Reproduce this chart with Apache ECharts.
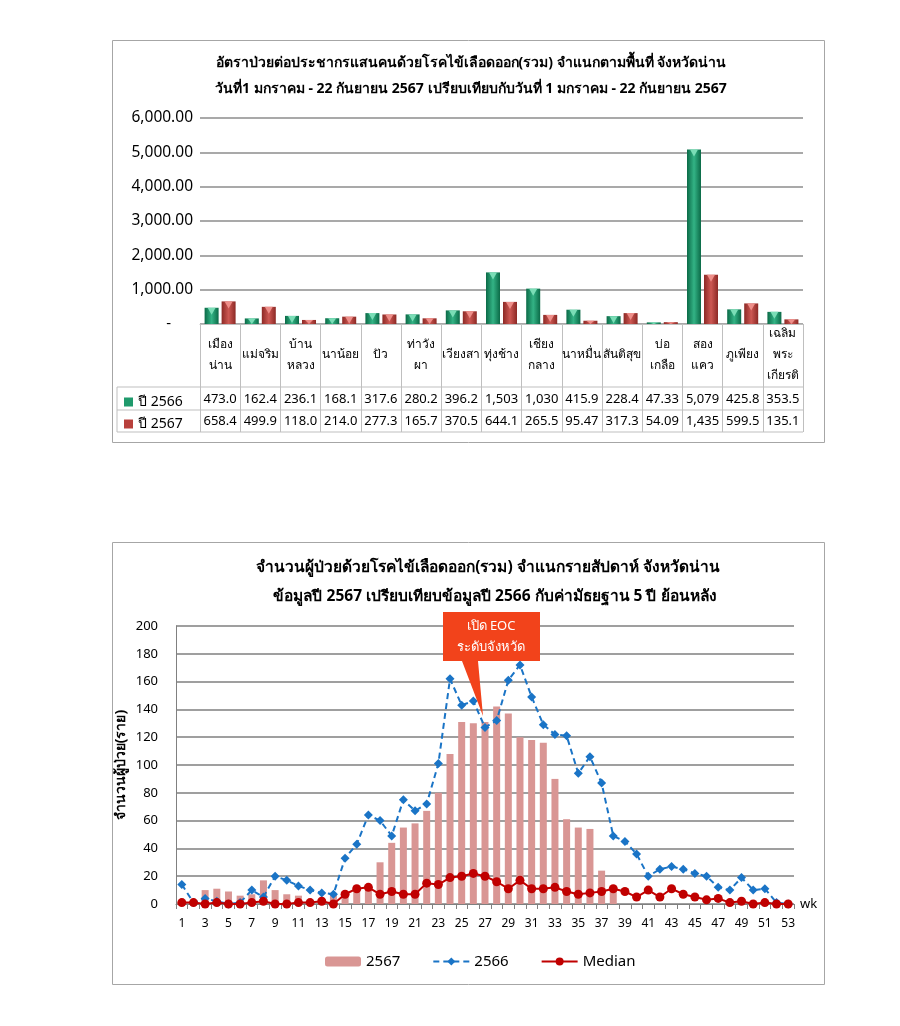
<!DOCTYPE html>
<html><head><meta charset="utf-8">
<script src="https://cdn.jsdelivr.net/npm/echarts@6/dist/echarts.min.js"></script>
<style>html,body{margin:0;padding:0;background:#fff}#c{width:900px;height:1026px}</style>
</head><body><div id="c"></div>
<script>
const FONT = 'Tahoma, "Noto Sans", "DejaVu Sans", sans-serif';

// ---- Top chart data ----
const topTitle1 = 'อัตราป่วยต่อประชากรแสนคนด้วยโรคไข้เลือดออก(รวม) จำแนกตามพื้นที่ จังหวัดน่าน';
const topTitle2 = 'วันที่1 มกราคม - 22 กันยายน 2567 เปรียบเทียบกับวันที่ 1 มกราคม - 22 กันยายน 2567';
const districts = ['เมือง\nน่าน','แม่จริม','บ้าน\nหลวง','นาน้อย','ปัว','ท่าวัง\nผา','เวียงสา','ทุ่งช้าง','เชียง\nกลาง','นาหมื่น','สันติสุข','บ่อ\nเกลือ','สอง\nแคว','ภูเพียง','เฉลิม\nพระ\nเกียรติ'];
const name2566 = 'ปี 2566';
const name2567 = 'ปี 2567';
const rate2566 = [473.0,162.4,236.1,168.1,317.6,280.2,396.2,1503,1030,415.9,228.4,47.33,5079,425.8,353.5];
const rate2567 = [658.4,499.9,118.0,214.0,277.3,165.7,370.5,644.1,265.5,95.47,317.3,54.09,1435,599.5,135.1];

// ---- Bottom chart data ----
const botTitle1 = 'จำนวนผู้ป่วยด้วยโรคไข้เลือดออก(รวม) จำแนกรายสัปดาห์ จังหวัดน่าน';
const botTitle2 = 'ข้อมูลปี 2567 เปรียบเทียบข้อมูลปี 2566 กับค่ามัธยฐาน 5 ปี ย้อนหลัง';
const weeks = ['1','2','3','4','5','6','7','8','9','10','11','12','13','14','15','16','17','18','19','20','21','22','23','24','25','26','27','28','29','30','31','32','33','34','35','36','37','38','39','40','41','42','43','44','45','46','47','48','49','50','51','52','53'];
const cases2567 = [3,0,10,11,9,6,7,17,10,7,6,1,1,8,9,12,12,30,44,55,58,67,80,108,131,130,131,142,137,120,118,116,90,61,55,54,24,11,null,null,null,null,null,null,null,null,null,null,null,null,null,null,null];
const cases2566 = [14,1,4,2,0,1,10,5,20,17,13,10,8,7,33,43,64,60,49,75,67,72,101,162,143,146,127,132,161,172,149,129,122,121,94,106,87,49,45,36,20,25,27,25,22,20,12,10,19,10,11,1,0];
const median5y = [1,1,0,1,0,0,1,2,0,0,1,1,2,0,7,11,12,7,9,7,7,15,14,19,20,22,20,16,11,17,11,11,12,9,7,8,9,11,9,5,10,5,11,7,5,3,4,1,2,0,1,0,0];
const calloutText = 'เปิด EOC\nระดับจังหวัด';

function fmtTable(v){
  return v >= 1000 ? Math.round(v).toLocaleString('en-US') : v.toPrecision(4);
}

const G = echarts.graphic;
function grad(dark, light){
  return new G.LinearGradient(0,0,1,0,[{offset:0,color:dark},{offset:0.5,color:light},{offset:1,color:dark}]);
}
function barRenderer(shift, dark, light, tri){
  return function(params, api){
    const idx = api.value(0), val = api.value(1);
    const top = api.coord([idx, val]);
    const base = api.coord([idx, 0]);
    const w = 14;
    const cx = top[0] + shift;
    const x = cx - w/2;
    const h = base[1] - top[1];
    const th = Math.min(7, h);
    return {type:'group', children:[
      {type:'rect', shape:{x:x, y:top[1], width:w, height:h}, style:{fill:grad(dark, light)}},
      {type:'polygon', shape:{points:[[x+3, top[1]],[x+w-3, top[1]],[cx, top[1]+th]]}, style:{fill:tri}}
    ]};
  };
}

const chart = echarts.init(document.getElementById('c'), null, {renderer:'canvas'});

const option = {
  backgroundColor:'#fff',
  animation:false,
  textStyle:{fontFamily:FONT},
  title:[
    {text:topTitle1, left:466, top:51, textAlign:'center', textStyle:{fontSize:14, fontWeight:'bold', color:'#000', fontFamily:FONT}},
    {text:topTitle2, left:466, top:77, textAlign:'center', textStyle:{fontSize:14, fontWeight:'bold', color:'#000', fontFamily:FONT}},
    {text:botTitle1, left:483, top:555, textAlign:'center', textStyle:{fontSize:15.5, fontWeight:'bold', color:'#000', fontFamily:FONT}},
    {text:botTitle2, left:490, top:584, textAlign:'center', textStyle:{fontSize:15.5, fontWeight:'bold', color:'#000', fontFamily:FONT}}
  ],
  legend:[
    {data:[{name:name2566, itemStyle:{color:'#1F9A6C'}},{name:name2567, itemStyle:{color:'#B8403C'}}],
     orient:'vertical', left:119, top:390, itemWidth:9, itemHeight:9, itemGap:8, itemTextGap:4, icon:'rect',
     textStyle:{fontSize:14, color:'#000', fontFamily:FONT}, selectedMode:false},
    {data:['2567','2566','Median'], left:320, top:949, itemWidth:36, itemHeight:10, itemGap:32,
     textStyle:{fontSize:15, color:'#000', fontFamily:FONT}, selectedMode:false}
  ],
  grid:[
    {left:200, top:118, width:603, height:206},
    {left:176, top:626, width:618, height:278}
  ],
  xAxis:[
    {type:'category', gridIndex:0, data:districts,
     axisLine:{show:true, lineStyle:{color:'#bfbfbf', width:1}},
     axisTick:{show:true, alignWithLabel:false, length:108, lineStyle:{color:'#bfbfbf'}},
     axisLabel:{interval:0, margin:31, verticalAlign:'middle', lineHeight:21, fontSize:12, color:'#000', fontFamily:FONT}},
    {type:'category', gridIndex:0, data:rate2566.map(fmtTable), position:'bottom', offset:75,
     axisLine:{show:false}, axisTick:{show:false},
     axisLabel:{interval:0, margin:0, verticalAlign:'middle', fontSize:13, color:'#000', fontFamily:FONT}},
    {type:'category', gridIndex:0, data:rate2567.map(fmtTable), position:'bottom', offset:97,
     axisLine:{show:false}, axisTick:{show:false},
     axisLabel:{interval:0, margin:0, verticalAlign:'middle', fontSize:13, color:'#000', fontFamily:FONT}},
    {type:'category', gridIndex:1, data:weeks, name:'wk', nameGap:6,
     nameTextStyle:{fontSize:13, color:'#000', fontFamily:FONT, verticalAlign:'middle'},
     axisLine:{show:true, lineStyle:{color:'#808080', width:1}},
     axisTick:{show:true, alignWithLabel:false, interval:0, length:5, lineStyle:{color:'#808080'}},
     axisLabel:{interval:1, margin:14, fontSize:12, color:'#000', fontFamily:FONT}}
  ],
  yAxis:[
    {type:'value', gridIndex:0, min:0, max:6000, interval:1000,
     axisLine:{show:false}, axisTick:{show:false},
     splitLine:{lineStyle:{color:'#8c8c8c', width:1.5}},
     axisLabel:{margin:7, fontSize:15.5, color:'#000', fontFamily:FONT,
       formatter:function(v){ return v===0 ? '{z|-}' : v.toLocaleString('en-US',{minimumFractionDigits:2, maximumFractionDigits:2}); },
       rich:{z:{fontSize:15, padding:[0,22,0,0], color:'#000'}}}},
    {type:'value', gridIndex:1, min:0, max:200, interval:20,
     name:'จำนวนผู้ป่วย(ราย)', nameLocation:'middle', nameGap:48, nameMoveOverlap:false,
     nameTextStyle:{fontSize:14, fontWeight:'bold', color:'#000', fontFamily:FONT},
     axisLine:{show:true, lineStyle:{color:'#808080'}}, axisTick:{show:false},
     splitLine:{lineStyle:{color:'#7f7f7f', width:1.5}},
     axisLabel:{margin:18, fontSize:13, color:'#000', fontFamily:FONT}}
  ],
  series:[
    {type:'custom', name:name2566, xAxisIndex:0, yAxisIndex:0, itemStyle:{color:'#1F9A6C'},
     data:rate2566.map((v,i)=>[i,v]), encode:{x:0,y:1},
     renderItem:barRenderer(-8.5, '#0B6A47', '#33B385', '#7ADDB6')},
    {type:'custom', name:name2567, xAxisIndex:0, yAxisIndex:0, itemStyle:{color:'#B8403C'},
     data:rate2567.map((v,i)=>[i,v]), encode:{x:0,y:1},
     renderItem:barRenderer(8.5, '#8C2925', '#CD5853', '#EE8E89')},
    {type:'bar', name:'2567', xAxisIndex:3, yAxisIndex:1, data:cases2567, barWidth:7,
     itemStyle:{color:'#D99694'}},
    {type:'line', name:'2566', xAxisIndex:3, yAxisIndex:1, data:cases2566,
     lineStyle:{color:'#1A74C6', width:2, type:[6,4]}, itemStyle:{color:'#1A74C6'},
     symbol:'diamond', symbolSize:9, showAllSymbol:true},
    {type:'line', name:'Median', xAxisIndex:3, yAxisIndex:1, data:median5y,
     lineStyle:{color:'#C00000', width:2}, itemStyle:{color:'#C00000'},
     symbol:'circle', symbolSize:9, showAllSymbol:true}
  ],
  graphic:[
    {type:'rect', left:110, top:38, shape:{width:712, height:402}, style:{fill:null, stroke:'#a6a6a6', lineWidth:1}, silent:true},
    {type:'rect', left:110, top:540, shape:{width:712, height:442}, style:{fill:null, stroke:'#a6a6a6', lineWidth:1}, silent:true},
    {type:'line', shape:{x1:117, y1:387, x2:803, y2:387}, style:{stroke:'#bfbfbf', lineWidth:1}},
    {type:'line', shape:{x1:117, y1:410, x2:803, y2:410}, style:{stroke:'#bfbfbf', lineWidth:1}},
    {type:'line', shape:{x1:117, y1:432, x2:803, y2:432}, style:{stroke:'#bfbfbf', lineWidth:1}},
    {type:'line', shape:{x1:117, y1:387, x2:117, y2:432}, style:{stroke:'#bfbfbf', lineWidth:1}},
    {type:'polygon', shape:{points:[[443,612],[540,612],[540,661],[478,661],[483,716],[462,661],[443,661]]},
     style:{fill:'#F2431B'}, z:10},
    {type:'text', x:491, y:637, z:11, style:{text:calloutText, fill:'#fff', fontSize:13, lineHeight:21, align:'center', verticalAlign:'middle', fontFamily:FONT}}
  ]
};
chart.setOption(option);
</script></body></html>
